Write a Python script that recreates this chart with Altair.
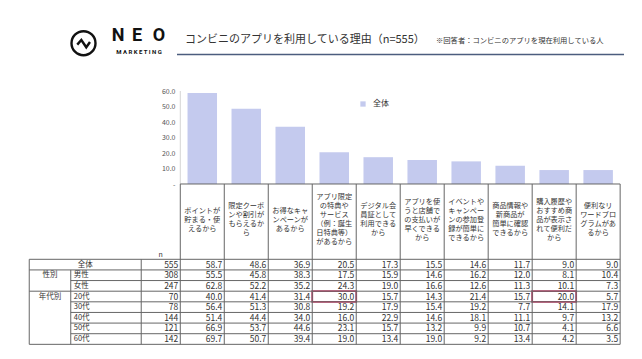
import altair as alt
import pandas as pd

# ---------------- data ----------------
categories = [
    "ポイントが\n貯まる・使\nえるから",
    "限定クーポ\nンや割引が\nもらえるか\nら",
    "お得なキャ\nンペーンが\nあるから",
    "アプリ限定\nの特典や\nサービス\n（例：誕生\n日特典等）\nがあるから",
    "デジタル会\n員証として\n利用できる\nから",
    "アプリを使\nうと店舗で\nの支払いが\n早くできる\nから",
    "イベントや\nキャンペー\nンの参加登\n録が簡単に\nできるから",
    "商品情報や\n新商品が\n簡単に確認\nできるから",
    "購入履歴や\nおすすめ商\n品が表示さ\nれて便利だ\nから",
    "便利なリ\nワードプロ\nグラムがあ\nるから",
]
row_labels = ["全体", "男性", "女性", "20代", "30代", "40代", "50代", "60代"]
group_labels = ["性別", "年代別"]
n_values = [555, 308, 247, 70, 78, 144, 121, 142]

values_all = [58.7, 48.6, 36.9, 20.5, 17.3, 15.5, 14.6, 11.7, 9.0, 9.0]
values_male = [55.5, 45.8, 38.3, 17.5, 15.9, 14.6, 16.2, 12.0, 8.1, 10.4]
values_female = [62.8, 52.2, 35.2, 24.3, 19.0, 16.6, 12.6, 11.3, 10.1, 7.3]
values_20s = [40.0, 41.4, 31.4, 30.0, 15.7, 14.3, 21.4, 15.7, 20.0, 5.7]
values_30s = [56.4, 51.3, 30.8, 19.2, 17.9, 15.4, 19.2, 7.7, 14.1, 17.9]
values_40s = [51.4, 44.4, 34.0, 16.0, 22.9, 14.6, 18.1, 11.1, 9.7, 13.2]
values_50s = [66.9, 53.7, 44.6, 23.1, 15.7, 13.2, 9.9, 10.7, 4.1, 6.6]
values_60s = [69.7, 50.7, 39.4, 19.0, 13.4, 19.0, 9.2, 13.4, 4.2, 3.5]
table_rows = [values_all, values_male, values_female, values_20s,
              values_30s, values_40s, values_50s, values_60s]
highlight_cells = [(3, 3), (3, 8)]  # (row, column)
y_ticks = [0, 10, 20, 30, 40, 50, 60]

title_text = "コンビニのアプリを利用している理由（n=555）"
note_text = "※回答者：コンビニのアプリを現在利用している人"
series_name = "全体"

# ---------------- layout constants ----------------
FONT = "Noto Sans CJK JP"
BAR_COLOR = "#c4caee"
LINE_COLOR = "#666666"
TEXT_COLOR = "#333333"
W, H = 626, 343
X_LEFT = -3.434   # outer left border of table (column units)
X_SUB = -2.49     # group / sub-label divider
X_N = -0.888      # left edge of n column
X_DOM = [-3.8031, 10.2013]
ROW_PX = 10.63
TABLE_TOP_PX = 251.3
YR_DOM = [-TABLE_TOP_PX / ROW_PX, (H - TABLE_TOP_PX) / ROW_PX]
YB_DOM = [-107.74, 113.55]
HEADER_TOP = -7.084
HEADER_MID_PX = 211.5
HEADER_LH = 9

X = alt.Scale(domain=X_DOM, nice=False, zero=False)
YR = alt.Scale(domain=YR_DOM, reverse=True, nice=False, zero=False)
YB = alt.Scale(domain=YB_DOM, nice=False, zero=False)
ncol = len(categories)

# ---------------- bar chart ----------------
bars_df = pd.DataFrame({"c": [i + 0.5 for i in range(ncol)],
                        "v": values_all, "s": series_name})
bars = alt.Chart(bars_df).mark_bar(size=29.5).encode(
    x=alt.X("c:Q", scale=X, axis=None),
    y=alt.Y("v:Q", scale=YB, title=None, axis=alt.Axis(
        values=y_ticks, offset=-170, domain=False, grid=False, ticks=False,
        labelPadding=3, labelFontSize=7, labelColor="#555555", labelFont=FONT,
        labelExpr="datum.value == 0 ? '-' : format(datum.value, '.1f')")),
    y2=alt.datum(0),
    color=alt.Color("s:N", scale=alt.Scale(range=[BAR_COLOR]), legend=alt.Legend(
        orient="none", legendX=351, legendY=92, title=None, symbolType="square",
        symbolSize=28, labelFontSize=8, labelFont=FONT, labelColor=TEXT_COLOR,
        padding=0, labelOffset=6)),
)
axis_rule = alt.Chart(pd.DataFrame({"x": [0], "y": [0], "y2": [max(y_ticks)]})).mark_rule(
    color="#d4d4d4", strokeWidth=1).encode(
    x=alt.X("x:Q", scale=X, axis=None),
    y=alt.Y("y:Q", scale=YB), y2="y2:Q")
bar_group = alt.layer(bars, axis_rule)

# ---------------- table ----------------
def tx(df, **mk):
    base = dict(font=FONT, color=TEXT_COLOR, baseline="middle")
    base.update(mk)
    return alt.Chart(df).mark_text(**base)

header_y = []
for lab in categories:
    nl = lab.count("\n") + 1
    first_px = HEADER_MID_PX - (nl - 1) * HEADER_LH / 2
    header_y.append((first_px - TABLE_TOP_PX) / ROW_PX)
header_df = pd.DataFrame({"c": [i + 0.5 for i in range(ncol)], "y": header_y, "t": categories})
header = tx(header_df, fontSize=7.2, lineHeight=HEADER_LH, lineBreak="\n", align="center").encode(
    x=alt.X("c:Q", scale=X, axis=None), y=alt.Y("y:Q", scale=YR, axis=None), text="t:N")

cells = []
for r, vals in enumerate(table_rows):
    for i, v in enumerate(vals):
        cells.append({"x": i + 1, "y": r + 0.5, "t": f"{v:.1f}"})
cells_df = pd.DataFrame(cells)
cell_text = tx(cells_df, fontSize=8.5, align="right", dx=-2).encode(
    x=alt.X("x:Q", scale=X, axis=None), y=alt.Y("y:Q", scale=YR, axis=None), text="t:N")

n_df = pd.DataFrame({"x": 0, "y": [r + 0.5 for r in range(len(n_values))],
                     "t": [str(n) for n in n_values]})
n_text = tx(n_df, fontSize=8.5, align="right", dx=-2).encode(
    x=alt.X("x:Q", scale=X, axis=None), y=alt.Y("y:Q", scale=YR, axis=None), text="t:N")

n_head = tx(pd.DataFrame({"x": [(X_N + 0) / 2], "y": [-0.45], "t": ["n"]}),
            fontSize=7, align="center").encode(
    x=alt.X("x:Q", scale=X, axis=None), y=alt.Y("y:Q", scale=YR, axis=None), text="t:N")

sub_df = pd.DataFrame({"x": X_SUB, "y": [r + 0.5 for r in range(1, len(row_labels))],
                       "t": row_labels[1:]})
sub_text = tx(sub_df, fontSize=7.5, align="left", dx=3).encode(
    x=alt.X("x:Q", scale=X, axis=None), y=alt.Y("y:Q", scale=YR, axis=None), text="t:N")

grp_df = pd.DataFrame({
    "x": [(X_LEFT + X_N) / 2, (X_LEFT + X_SUB) / 2, (X_LEFT + X_SUB) / 2],
    "y": [0.5, 1.5, 3.5],
    "t": [row_labels[0]] + group_labels})
grp_text = tx(grp_df, fontSize=7.5, align="center").encode(
    x=alt.X("x:Q", scale=X, axis=None), y=alt.Y("y:Q", scale=YR, axis=None), text="t:N")

nrow = len(row_labels)
h_lines = [{"x": X_LEFT, "x2": ncol, "y": 0}, {"x": X_LEFT, "x2": ncol, "y": 1},
           {"x": X_SUB, "x2": ncol, "y": 2}, {"x": X_LEFT, "x2": ncol, "y": 3}]
h_lines += [{"x": X_SUB, "x2": ncol, "y": r} for r in range(4, nrow)]
h_lines += [{"x": X_LEFT, "x2": ncol, "y": nrow}, {"x": 0, "x2": ncol, "y": HEADER_TOP}]
hrule = alt.Chart(pd.DataFrame(h_lines)).mark_rule(color=LINE_COLOR, strokeWidth=1).encode(
    x=alt.X("x:Q", scale=X, axis=None), x2="x2:Q", y=alt.Y("y:Q", scale=YR, axis=None))

v_lines = [{"x": X_LEFT, "y": 0, "y2": nrow}, {"x": X_SUB, "y": 1, "y2": nrow},
           {"x": X_N, "y": 0, "y2": nrow}]
v_lines += [{"x": i, "y": HEADER_TOP, "y2": nrow} for i in range(ncol + 1)]
vrule = alt.Chart(pd.DataFrame(v_lines)).mark_rule(color=LINE_COLOR, strokeWidth=1).encode(
    x=alt.X("x:Q", scale=X, axis=None), y=alt.Y("y:Q", scale=YR, axis=None), y2="y2:Q")

hl_df = pd.DataFrame([{"x": c, "x2": c + 1, "y": r, "y2": r + 1} for r, c in highlight_cells])
hl = alt.Chart(hl_df).mark_rect(fillOpacity=0, stroke="#c93a68", strokeWidth=1.8).encode(
    x=alt.X("x:Q", scale=X, axis=None), x2="x2:Q",
    y=alt.Y("y:Q", scale=YR, axis=None), y2="y2:Q")

# ---------------- header decorations ----------------
def deco(text, x, y, **mk):
    base = dict(font=FONT, color=TEXT_COLOR, baseline="middle", align="left")
    base.update(mk)
    return alt.Chart(pd.DataFrame({"t": [text]})).mark_text(**base).encode(
        x=alt.value(x), y=alt.value(y), text="t:N")

logo_shape = ("M-1,0A1,1 0 1,1 1,0A1,1 0 1,1 -1,0Z "
              "M-0.52,0.12L-0.18,-0.27L0.23,0.34L0.54,-0.1")
logo = alt.Chart(pd.DataFrame({"t": ["logo"]})).mark_point(
    shape=logo_shape, size=576, filled=False, stroke="#111111", strokeWidth=2.4,
    opacity=1).encode(x=alt.value(75.5), y=alt.value(35.2))
neo_kw = dict(fontSize=18, fontWeight="bold", font="Roboto", color="#111111", align="center")
neo_n = deco("N", 110, 28, **neo_kw)
neo_e = deco("E", 129, 28, **neo_kw)
neo_o = deco("O", 151, 28, **neo_kw)
marketing = deco("M A R K E T I N G", 131, 44, fontSize=6, fontWeight="bold",
                 font="Roboto", color="#111111", align="center")
title = deco(title_text, 177, 32, fontSize=11, color="#333333")
note = deco(note_text, 428, 33, fontSize=7.3, color="#333333")
underline = alt.Chart(pd.DataFrame({"t": ["u"]})).mark_rule(
    color="#4b5d7e", strokeWidth=1.6).encode(
    x=alt.value(169), x2=alt.value(616), y=alt.value(46.5))

table_group = alt.layer(hl, hrule, vrule, header, cell_text, n_text, n_head, sub_text,
                        grp_text, logo, neo_n, neo_e, neo_o, marketing, title, note, underline)

chart = alt.layer(bar_group, table_group).resolve_scale(y="independent").properties(
    width=W, height=H, autosize=alt.AutoSizeParams(type="none"), padding=0,
    background="white",
).configure_view(stroke=None)

chart.save("out.html", embed_options={"renderer": "svg", "actions": False})
